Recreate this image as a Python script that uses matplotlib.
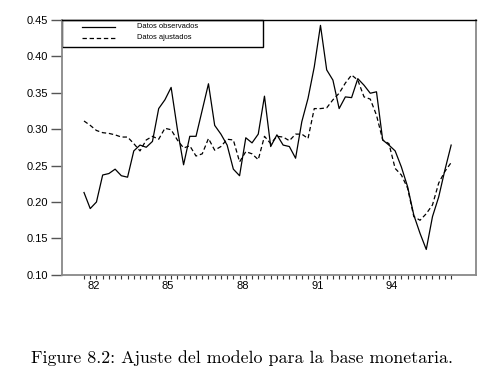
import numpy as np
import matplotlib
matplotlib.use('Agg')
import matplotlib.pyplot as plt
from matplotlib.patches import Rectangle

# quarterly series, 60 observations
observados = [0.213, 0.191, 0.200, 0.237, 0.239, 0.245, 0.236, 0.234, 0.270, 0.278,
              0.275, 0.283, 0.328, 0.340, 0.357, 0.300, 0.251, 0.290, 0.290, 0.326,
              0.362, 0.305, 0.293, 0.278, 0.245, 0.236, 0.288, 0.281, 0.293, 0.345,
              0.276, 0.292, 0.278, 0.276, 0.260, 0.310, 0.342, 0.385, 0.442, 0.381,
              0.367, 0.328, 0.344, 0.343, 0.369, 0.360, 0.349, 0.351, 0.285, 0.278,
              0.270, 0.248, 0.221, 0.182, 0.157, 0.135, 0.180, 0.207, 0.244, 0.278]
ajustados = [0.311, 0.305, 0.298, 0.295, 0.294, 0.292, 0.289, 0.289, 0.280, 0.270,
             0.285, 0.290, 0.286, 0.301, 0.299, 0.285, 0.274, 0.277, 0.263, 0.266,
             0.287, 0.271, 0.276, 0.286, 0.285, 0.255, 0.269, 0.266, 0.258, 0.290,
             0.280, 0.290, 0.289, 0.284, 0.293, 0.293, 0.287, 0.328, 0.328, 0.329,
             0.340, 0.349, 0.363, 0.374, 0.367, 0.344, 0.341, 0.319, 0.285, 0.280,
             0.246, 0.237, 0.219, 0.180, 0.175, 0.184, 0.196, 0.226, 0.242, 0.254]
year_labels = ['82', '85', '88', '91', '94']
y_ticks = [0.10, 0.15, 0.20, 0.25, 0.30, 0.35, 0.40, 0.45]
leg_labels = ['Datos observados', 'Datos ajustados']

plt.rcParams['font.family'] = ['Liberation Sans', 'DejaVu Sans']
dash = (0, (3.5, 2.2))

fig = plt.figure(figsize=(4.99, 3.83), dpi=100)
ax = fig.add_axes([0.1242, 0.282, 0.954 - 0.1242, 0.949 - 0.282])

q = np.arange(len(observados))
ax.plot(q, observados, color='black', lw=0.9)
ax.plot(q, ajustados, color='black', lw=0.9, linestyle=dash)

ax.set_xlim(-3.54, 63.0)
ax.set_ylim(0.10, 0.45)

ax.set_yticks(y_ticks)
ax.set_yticklabels(['%.2f' % v for v in y_ticks])
ax.tick_params(axis='y', length=8, width=1, color='#555555', labelsize=8, pad=2)

# labels every 3 years, small ticks every quarter
label_pos = [1.5 + 12 * k for k in range(len(year_labels))]
ax.set_xticks(label_pos)
ax.set_xticklabels(year_labels)
ax.set_xticks(q, minor=True)
ax.tick_params(axis='x', which='major', length=0, labelsize=8, pad=4)
ax.tick_params(axis='x', which='minor', length=3, width=0.8, color='#333333')

for side in ['left', 'bottom', 'right']:
    ax.spines[side].set_color('#888888')
    ax.spines[side].set_linewidth(1.3)
ax.spines['top'].set_color('black')
ax.spines['top'].set_linewidth(1.0)

# legend box drawn by hand (S-Plus style)
ax.add_patch(Rectangle((0, 0.892), 0.486, 0.108, transform=ax.transAxes,
                       fill=False, edgecolor='black', lw=1.0, clip_on=False))
for yy, ls, lab in zip([0.971, 0.928], ['-', dash], leg_labels):
    ax.plot([0.048, 0.128], [yy, yy], transform=ax.transAxes, color='black',
            lw=0.9, linestyle=ls, clip_on=False)
    ax.text(0.181, yy, lab, transform=ax.transAxes, fontsize=5.4,
            va='center', ha='left')

fig.text(0.485, 0.066, 'Figure 8.2: Ajuste del modelo para la base monetaria.',
         family='cmr10', fontsize=12.9, ha='center', va='center')

fig.savefig('out.png', dpi=100)
